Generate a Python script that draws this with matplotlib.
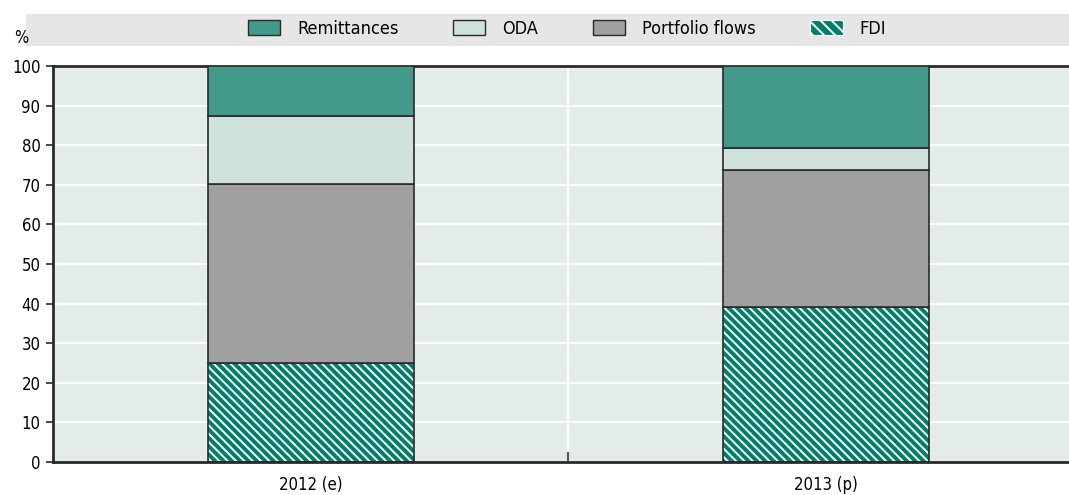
import matplotlib.pyplot as plt
import numpy as np
from matplotlib.patches import Rectangle
from matplotlib import font_manager

names = {f.name for f in font_manager.fontManager.ttflist}
if "Liberation Sans Narrow" in names:
    plt.rcParams["font.family"] = ["Liberation Sans Narrow", "DejaVu Sans"]
else:
    plt.rcParams["font.family"] = ["DejaVu Sans"]
    plt.rcParams["font.stretch"] = "condensed"
plt.rcParams["hatch.linewidth"] = 1.4

# Shares of external flows, %
categories = ["2012 (e)", "2013 (p)"]
fdi = [25.0, 39.2]
portfolio = [45.2, 34.6]
oda = [17.3, 5.6]
remittances = [12.5, 20.6]
yticks = list(range(0, 101, 10))

TEAL_DARK = "#00806a"
TEAL = "#449a8a"
ODA_C = "#cfe2dd"
GREY = "#a0a0a2"
BG = "#e3ece9"
EDGE = "#2a2a2a"

fig = plt.figure(figsize=(10.69, 4.95), dpi=100)
W, H = 1069, 495
# axes runs slightly past the right edge of the image like in the reference
ax = fig.add_axes([53 / W, (H - 462) / H, 1030 / W, 396 / H])
ax.set_facecolor(BG)

x = np.arange(len(categories))
width = 0.4

# legend band
fig.patches.append(Rectangle((26 / W, (H - 46) / H), 1 - 26 / W, 32 / H,
                             transform=fig.transFigure, facecolor="#e6e6e6",
                             edgecolor="none", zorder=0))

bottom = np.zeros(len(categories))
ax.bar(x, fdi, width, bottom=bottom, color=TEAL_DARK, edgecolor="white",
       hatch="\\\\\\\\", linewidth=0, zorder=2)
ax.bar(x, fdi, width, bottom=bottom, fill=False, edgecolor=EDGE, linewidth=1.2, zorder=3)
bottom += fdi
ax.bar(x, portfolio, width, bottom=bottom, color=GREY, edgecolor=EDGE, linewidth=1.2, zorder=3)
bottom += portfolio
ax.bar(x, oda, width, bottom=bottom, color=ODA_C, edgecolor=EDGE, linewidth=1.2, zorder=3)
bottom += oda
ax.bar(x, remittances, width, bottom=bottom, color=TEAL, edgecolor=EDGE, linewidth=1.2, zorder=3)

ax.set_xlim(-0.5, 1.5)
ax.set_ylim(0, 100)
ax.set_yticks(yticks)
ax.set_xticks(x)
ax.set_xticklabels(categories, fontsize=12)
ax.set_xticks([0.5], minor=True)
ax.tick_params(axis="x", which="major", length=0, pad=10)
ax.tick_params(axis="x", which="minor", length=7, direction="in", color="#555555", width=1.5)
ax.tick_params(axis="y", length=5, width=1.2, color=EDGE, labelsize=12, pad=4)

ax.grid(axis="y", color="white", linewidth=1.5, zorder=1)
ax.grid(axis="x", which="minor", color="white", linewidth=1.5, zorder=1)
ax.set_axisbelow(True)

for side in ["left", "bottom", "top"]:
    ax.spines[side].set_color(EDGE)
    ax.spines[side].set_linewidth(2)
ax.spines["right"].set_visible(False)

fig.text(14 / W, (H - 38) / H, "%", fontsize=12, ha="left", va="center")

handles = [
    Rectangle((0, 0), 1, 1, facecolor=TEAL, edgecolor=EDGE, linewidth=1),
    Rectangle((0, 0), 1, 1, facecolor=ODA_C, edgecolor=EDGE, linewidth=1),
    Rectangle((0, 0), 1, 1, facecolor=GREY, edgecolor=EDGE, linewidth=1),
    Rectangle((0, 0), 1, 1, facecolor=TEAL_DARK, edgecolor="white", hatch="\\\\\\", linewidth=0.8),
]
fig.legend(handles, ["Remittances", "ODA", "Portfolio flows", "FDI"], ncol=4,
           loc="center", bbox_to_anchor=(567 / W, (H - 29) / H), frameon=False,
           fontsize=13, handlelength=1.8, handleheight=0.9, columnspacing=3.0,
           handletextpad=0.95)

fig.savefig("out.png", dpi=100)
